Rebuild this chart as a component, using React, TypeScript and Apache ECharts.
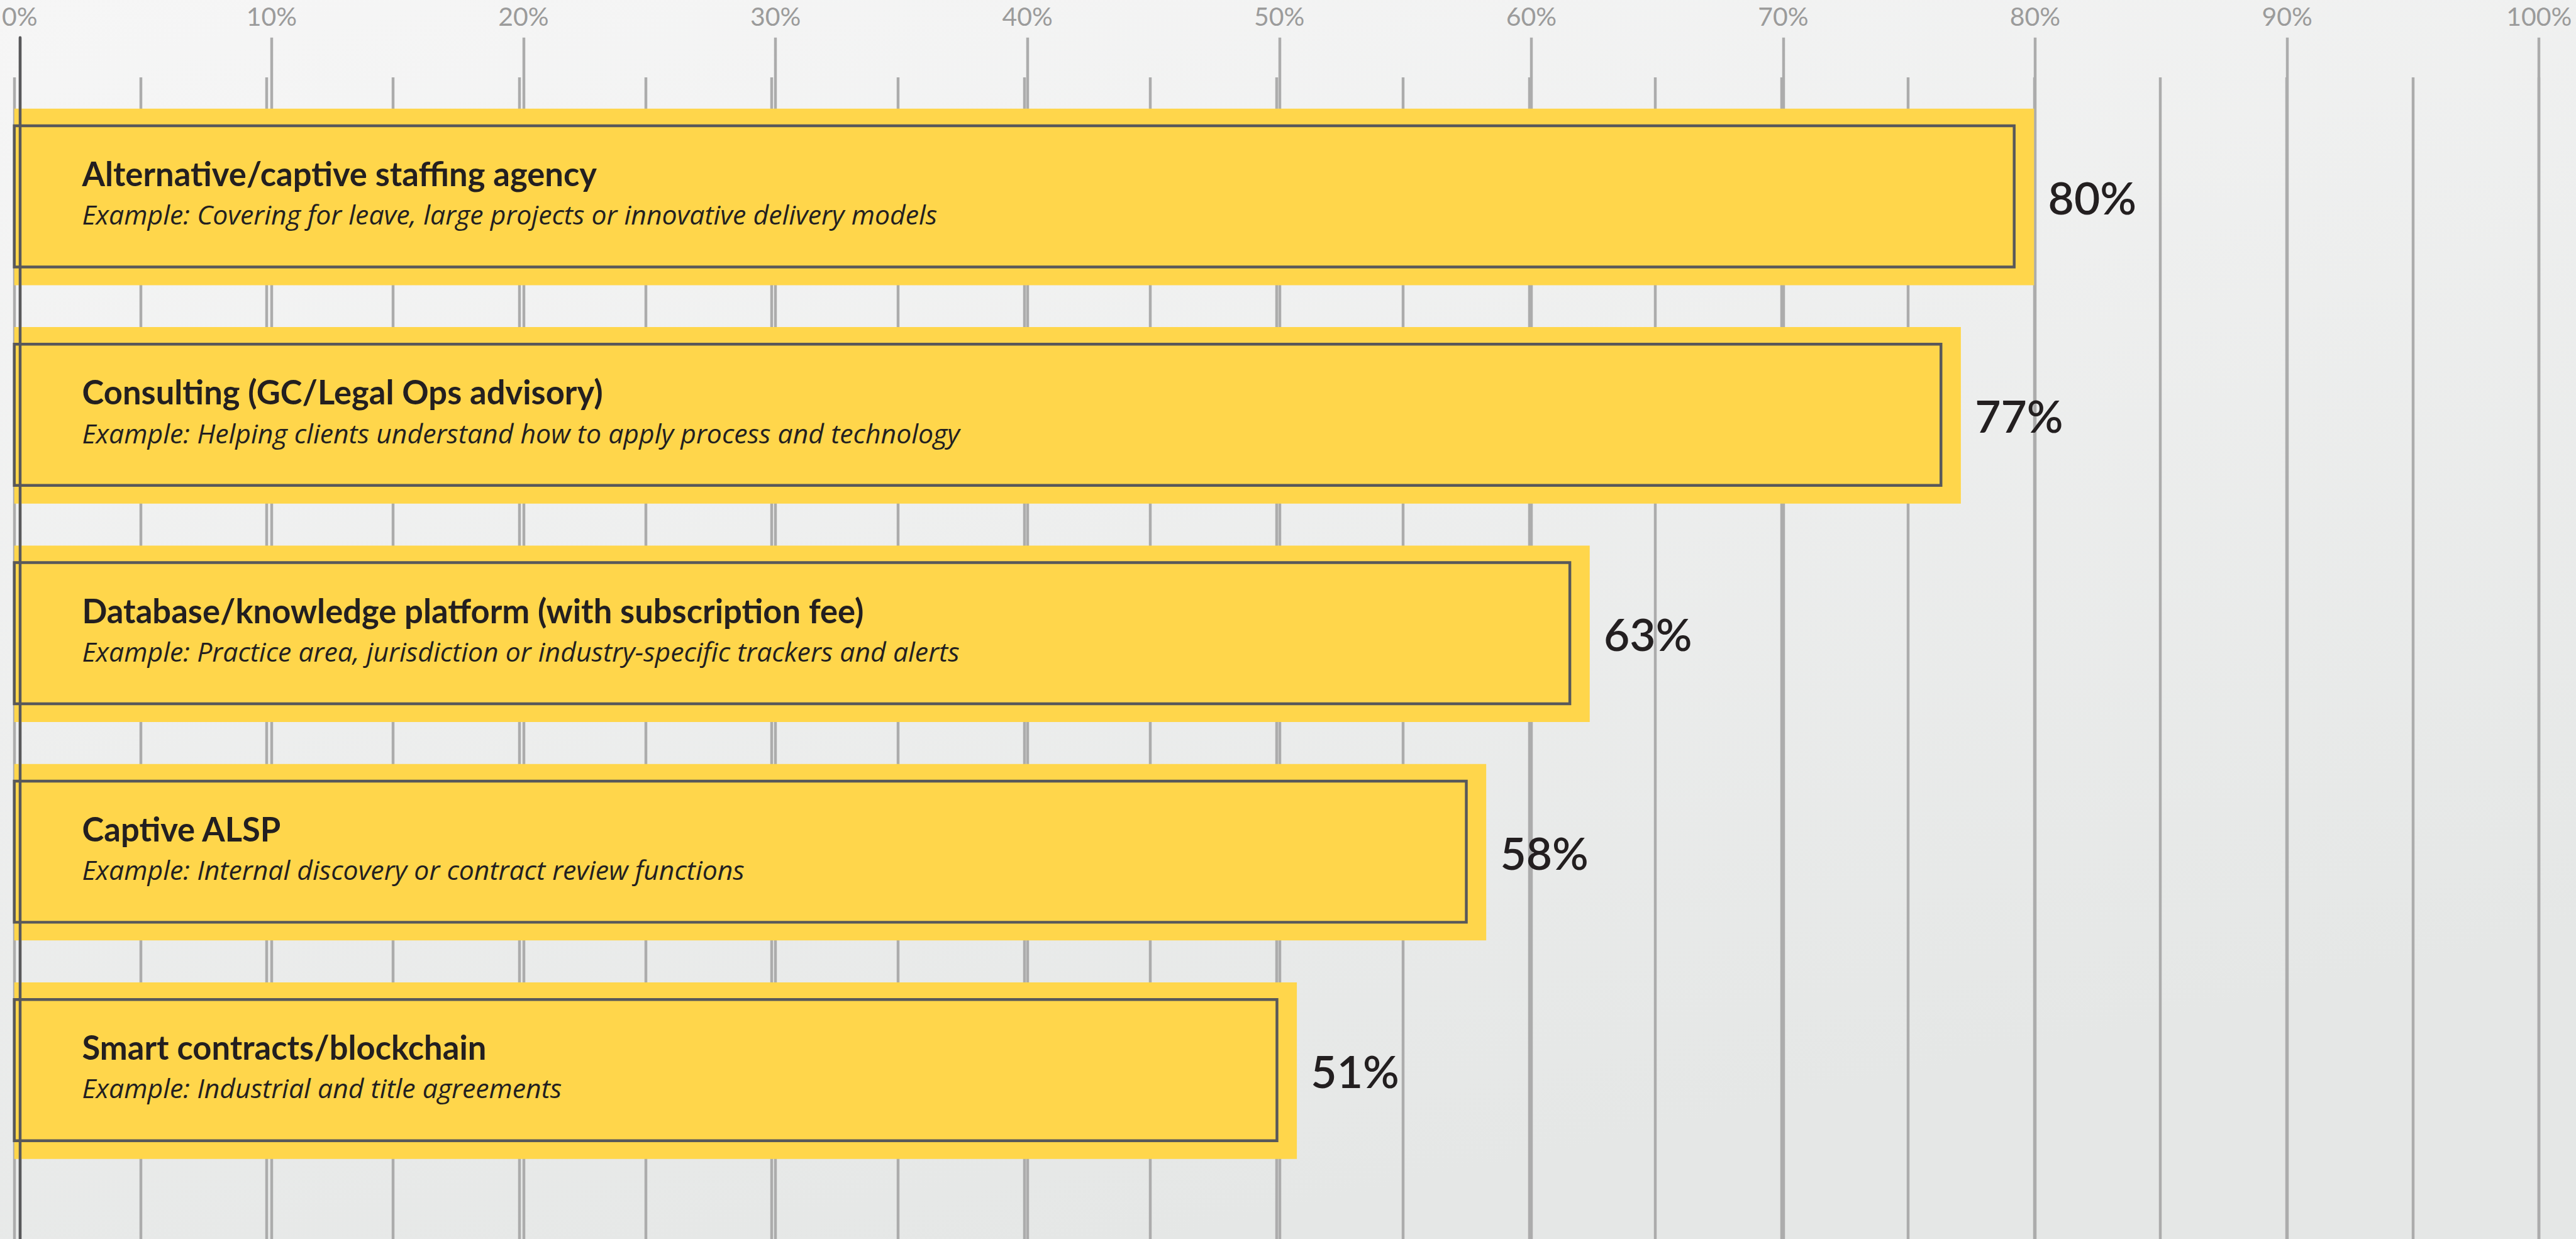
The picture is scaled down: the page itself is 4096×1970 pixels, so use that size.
import React, { useEffect, useRef } from "react";
import * as echarts from "echarts";

const W = 4096;
const H = 1970;
const S = 4096 / 4598;

const categories = [
  "Alternative/captive staffing agency",
  "Consulting (GC/Legal Ops advisory)",
  "Database/knowledge platform (with subscription fee)",
  "Captive ALSP",
  "Smart contracts/blockchain",
];
const examples = [
  "Example: Covering for leave, large projects or innovative delivery models",
  "Example: Helping clients understand how to apply process and technology",
  "Example: Practice area, jurisdiction or industry-specific trackers and alerts",
  "Example: Internal discovery or contract review functions",
  "Example: Industrial and title agreements",
];
const values = [80, 77.1, 62.4, 58.3, 50.8];
const valueLabels = ["80%", "77%", "63%", "58%", "51%"];

const FONT = "Lato";

export default function App() {
  const ref = useRef<HTMLDivElement>(null);
  useEffect(() => {
    if (!ref.current) return;
    const chart = echarts.init(ref.current, undefined, { renderer: "svg", width: W, height: H });
    const left = 25.5 * S;
    const right = 66 * S;
    const gridLine = { show: true, lineStyle: { color: "#acacac", width: 5 * S } };
    const option: any = {
      animation: false,
      backgroundColor: {
        type: "linear",
        x: 0, y: 0, x2: 0.45, y2: 1,
        colorStops: [
          { offset: 0, color: "#f6f6f6" },
          { offset: 1, color: "#e5e7e6" },
        ],
      },
      grid: [
        { left, right, top: 67 * S, bottom: 0 },
        { left, right, top: 138 * S, bottom: 0 },
        { left, right, top: 156.5 * S, bottom: 105.5 * S },
      ],
      xAxis: [
        {
          gridIndex: 0, type: "value", min: 0, max: 100, interval: 10, position: "top",
          axisLine: { show: false }, axisTick: { show: false },
          axisLabel: {
            show: true, margin: (67 - 29) * S, fontSize: 46 * S, color: "#9b9b9b",
            fontFamily: FONT, verticalAlign: "middle", formatter: (v: number) => v + "%",
          },
          splitLine: gridLine,
        },
        {
          gridIndex: 1, type: "value", min: 0, max: 100, interval: 5,
          axisLine: { show: false }, axisTick: { show: false }, axisLabel: { show: false },
          splitLine: gridLine,
        },
        { gridIndex: 2, type: "value", min: 0, max: 100, show: false },
      ],
      yAxis: [
        {
          gridIndex: 0, type: "value", z: 10,
          axisLine: { show: true, lineStyle: { color: "#58585a", width: 5 * S } },
          axisTick: { show: false }, axisLabel: { show: false }, splitLine: { show: false },
        },
        { gridIndex: 1, type: "value", show: false, splitLine: { show: false } },
        { gridIndex: 2, type: "category", inverse: true, data: categories, show: false },
      ],
      series: [
        {
          type: "bar",
          xAxisIndex: 2,
          yAxisIndex: 2,
          data: values,
          barWidth: 315 * S,
          itemStyle: { color: "#ffd64b" },
          z: 3,
          label: {
            show: true,
            position: "right",
            distance: 25 * S,
            formatter: (p: any) => valueLabels[p.dataIndex],
            fontSize: 80 * S,
            fontWeight: 600,
            color: "#231f20",
            fontFamily: FONT,
          },
        },
        {
          type: "custom",
          xAxisIndex: 2,
          yAxisIndex: 2,
          z: 5,
          data: values.map((v, i) => [v, i]),
          encode: { x: 0, y: 1 },
          renderItem: (params: any, api: any) => {
            const v = api.value(0);
            const i = api.value(1);
            const p0 = api.coord([0, i]);
            const p1 = api.coord([v, i]);
            const cy = p0[1];
            return {
              type: "group",
              children: [
                {
                  type: "rect",
                  shape: {
                    x: p0[0],
                    y: cy - 127 * S,
                    width: p1[0] - 35.5 * S - p0[0],
                    height: 252 * S,
                  },
                  style: { fill: "none", stroke: "#58585a", lineWidth: 5 * S },
                },
                {
                  type: "text",
                  style: {
                    text: categories[i],
                    x: p0[0] + 121 * S,
                    y: cy - 42 * S,
                    fontSize: 59 * S,
                    fontWeight: "bold",
                    fontFamily: FONT,
                    fill: "#231f20",
                    verticalAlign: "middle",
                    align: "left",
                  },
                },
                {
                  type: "text",
                  style: {
                    text: examples[i],
                    x: p0[0] + 121 * S,
                    y: cy + 31 * S,
                    fontSize: 48 * S,
                    fontStyle: "italic",
                    fontFamily: "Open Sans",
                    fill: "#231f20",
                    verticalAlign: "middle",
                    align: "left",
                  },
                },
              ],
            };
          },
        },
      ],
    };
    chart.setOption(option);
    return () => chart.dispose();
  }, []);
  return (
    <div
      ref={ref}
      style={{ position: "fixed", left: 0, top: 0, width: W, height: H, overflow: "hidden" }}
    />
  );
}
